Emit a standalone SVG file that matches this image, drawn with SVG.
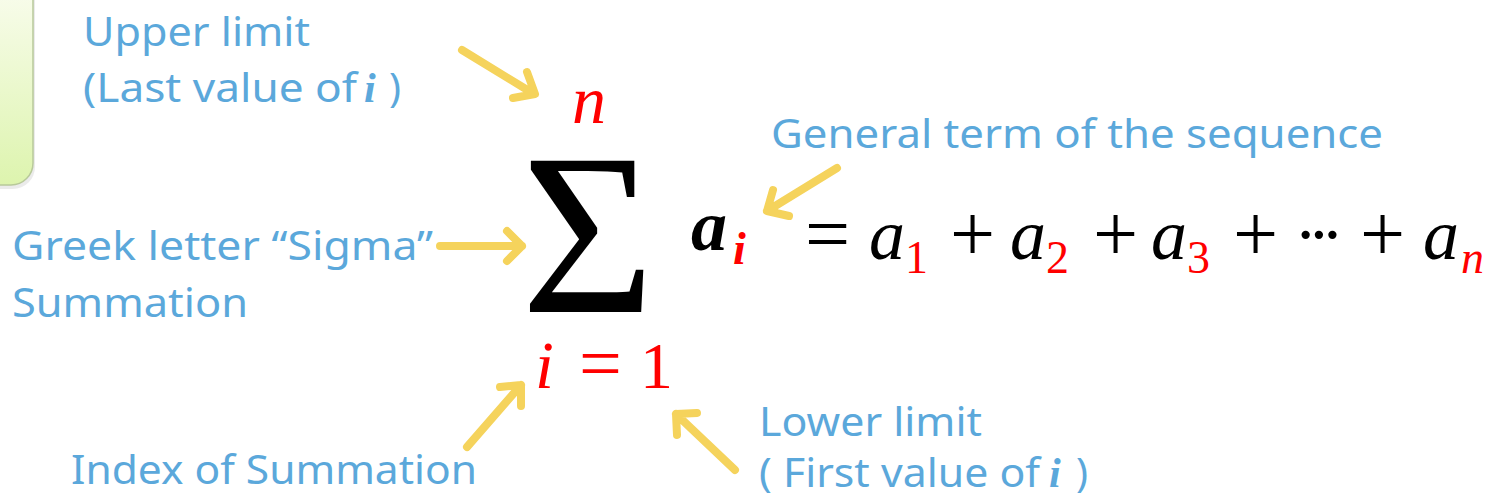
<svg xmlns="http://www.w3.org/2000/svg" width="1489" height="500" viewBox="0 0 1489 500">
<style>
.lbl{font-family:"Noto Sans","Open Sans","Liberation Sans",sans-serif;font-size:40px;fill:#5BA8DB}
.iv{font-family:"Liberation Serif",serif;font-style:italic;font-weight:bold;font-size:42px;fill:#5BA8DB}
.m{font-family:"Liberation Serif",serif;font-size:70px;fill:#000}
.mi{font-family:"Liberation Serif",serif;font-style:italic;font-size:72px;fill:#000}
.op{font-family:"Liberation Serif",serif;font-size:80px;fill:#000}
.r{fill:#FF0000}
.sub{font-size:46px}
.arw{fill:none;stroke:#F5D35C;stroke-width:8;stroke-linecap:round;stroke-linejoin:round}
</style>
<defs>
<linearGradient id="gb" x1="0" y1="0" x2="0" y2="1">
<stop offset="0" stop-color="#FBFDF2"/>
<stop offset="1" stop-color="#DDF4AE"/>
</linearGradient>
</defs>
<g id="greenbox">
<rect x="-30" y="-30" width="64" height="217" rx="22" fill="#000" opacity="0.08" transform="translate(1,2)"/>
<rect x="-30" y="-30" width="63" height="215" rx="22" fill="url(#gb)" stroke="#B8C99A" stroke-width="1.5"/>
</g>
<g id="upper-limit">
<text class="lbl" x="83" y="46" textLength="227" lengthAdjust="spacingAndGlyphs">Upper limit</text>
<text class="lbl" x="83" y="102" textLength="274" lengthAdjust="spacingAndGlyphs">(Last value of</text>
<text class="iv" x="364" y="102">i</text>
<text class="lbl" x="389" y="102">)</text>
</g>
<g id="sigma-label">
<text class="lbl" x="12" y="260" textLength="421" lengthAdjust="spacingAndGlyphs">Greek letter “Sigma”</text>
<text class="lbl" x="12" y="317" textLength="236" lengthAdjust="spacingAndGlyphs">Summation</text>
</g>
<g id="general-term">
<text class="lbl" x="771" y="148" textLength="612" lengthAdjust="spacingAndGlyphs">General term of the sequence</text>
</g>
<g id="index-label">
<text class="lbl" x="71" y="484" textLength="406" lengthAdjust="spacingAndGlyphs">Index of Summation</text>
</g>
<g id="lower-limit">
<text class="lbl" x="759" y="436" textLength="223" lengthAdjust="spacingAndGlyphs">Lower limit</text>
<text class="lbl" x="759" y="487" textLength="281" lengthAdjust="spacingAndGlyphs">( First value of</text>
<text class="iv" x="1049" y="487">i</text>
<text class="lbl" x="1076" y="487">)</text>
</g>
<g id="sum">
<text x="521" y="312" style="font-family:'Liberation Serif',serif;font-size:230px;fill:#000">Σ</text>
<text class="mi r" x="572" y="123" style="font-size:68px">n</text>
<text class="mi r" x="535" y="388" style="font-size:68px">i</text>
<text class="op r" x="579" y="389" style="font-size:76px">=</text>
<text class="m r" x="640" y="388" style="font-size:66px">1</text>
</g>
<g id="equation">
<text class="mi" x="691" y="250" style="font-weight:bold">a</text>
<text class="mi r sub" x="733" y="264" style="font-weight:bold">i</text>
<text class="op" x="805" y="261">=</text>
<text class="mi" x="869" y="259">a</text>
<text class="m r sub" x="905" y="273">1</text>
<text class="op" x="950" y="261">+</text>
<text class="mi" x="1010" y="259">a</text>
<text class="m r sub" x="1046" y="273">2</text>
<text class="op" x="1093" y="261">+</text>
<text class="mi" x="1151" y="259">a</text>
<text class="m r sub" x="1187" y="273">3</text>
<text class="op" x="1233" y="261">+</text>
<text class="m" x="1294" y="258" textLength="50" lengthAdjust="spacing">···</text>
<text class="op" x="1360" y="261">+</text>
<text class="mi" x="1423" y="259">a</text>
<text class="mi r sub" x="1461" y="273">n</text>
</g>
<g id="connectors">
<path class="arw" d="M462 50 L534 94 M527 72 L535 94 L513 98"/>
<path class="arw" d="M440 246 L522 246 M507 231 L522 246 L507 261"/>
<path class="arw" d="M837 168 L767 211 M773 190 L767 211 L789 216"/>
<path class="arw" d="M467 447 L521 385 M500 387 L521 385 L521 406"/>
<path class="arw" d="M735 470 L676 414 M697 413 L676 414 L677 435"/>
</g>
</svg>
